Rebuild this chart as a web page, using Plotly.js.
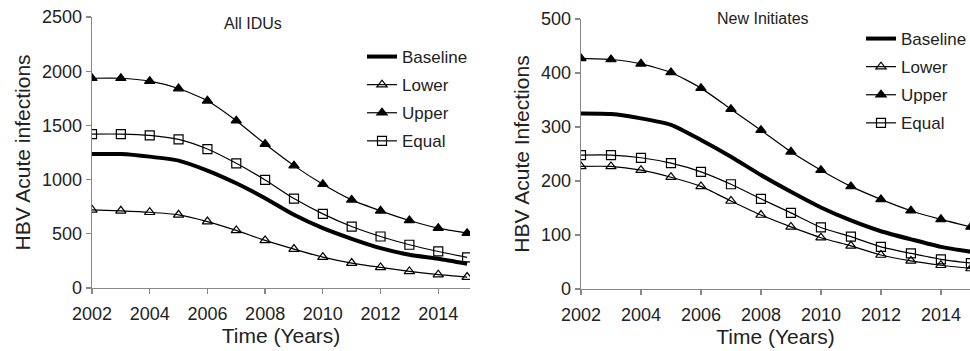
<!DOCTYPE html>
<html>
<head>
<meta charset="utf-8">
<script src="https://cdn.plot.ly/plotly-3.0.1.min.js"></script>
<style>html,body{margin:0;padding:0;background:#fff;}#chart{width:970px;height:351px;}</style>
</head>
<body>
<div id="chart"></div>
<script>
const years = [2002,2003,2004,2005,2006,2007,2008,2009,2010,2011,2012,2013,2014,2015];

// All IDUs
const idu_baseline = [1236,1236,1212,1175,1083,966,828,675,552,454,368,307,270,224];
const idu_lower    = [721,712,699,675,613,531,439,359,285,230,190,153,123,101];
const idu_upper    = [1935,1935,1908,1840,1727,1543,1328,1129,957,813,712,623,552,506];
const idu_equal    = [1420,1420,1408,1371,1282,1150,997,825,684,567,475,399,337,282];

// New Initiates
const ni_baseline = [325,324,316,304,276,245,211,180,151,127,107,92,78,69];
const ni_lower    = [227,227,220,207,190,163,137,115,95,80,63,52,44,38];
const ni_upper    = [427,425,417,401,372,333,294,254,220,190,166,145,129,115];
const ni_equal    = [248,248,243,233,217,194,167,141,114,97,78,66,55,48];

const seriesNames = ['Baseline','Lower','Upper','Equal'];
const xTicks = [2002,2004,2006,2008,2010,2012,2014];

const FONT = 'Liberation Sans, Arial, sans-serif';
const W = 970, H = 351;

function styleFor(name){
  if(name==='Baseline') return {mode:'lines', line:{color:'#000', width:4, shape:'spline', smoothing:0.6}};
  const sym = {Lower:'triangle-up-open', Upper:'triangle-up', Equal:'square-open'}[name];
  return {mode:'lines+markers', line:{color:'#000', width:1.2, shape:'spline', smoothing:0.6},
          marker:{symbol:sym, size:9, color:'#000', line:{color:'#000', width:1.2}}};
}

const traces = [];
const iduSets = [idu_baseline, idu_lower, idu_upper, idu_equal];
const niSets = [ni_baseline, ni_lower, ni_upper, ni_equal];
seriesNames.forEach((n,i)=>{
  traces.push(Object.assign({x:years, y:iduSets[i], name:n, xaxis:'x', yaxis:'y', legend:'legend', legendgroup:'a'+i}, styleFor(n)));
});
seriesNames.forEach((n,i)=>{
  traces.push(Object.assign({x:years, y:niSets[i], name:n, xaxis:'x2', yaxis:'y2', legend:'legend2', legendgroup:'b'+i}, styleFor(n)));
});

const axisCommon = {
  showline:true, linecolor:'#888', linewidth:1.3, ticks:'outside', tickcolor:'#888', ticklen:5, tickwidth:1.3,
  showgrid:false, zeroline:false, tickfont:{family:FONT, size:18, color:'#222'}, fixedrange:true, automargin:false
};
const titleFont = {family:FONT, size:21, color:'#222'};

const layout = {
  width:W, height:H, margin:{l:0,r:0,t:0,b:0, autoexpand:false}, paper_bgcolor:'#fff', plot_bgcolor:'#fff',
  font:{family:FONT, color:'#222'},
  xaxis: Object.assign({}, axisCommon, {domain:[92/W, 470/W], range:[2002, 2015.1], tickvals:xTicks, anchor:'y',
    ticklabelstandoff:4, title:{text:'Time (Years)', font:titleFont, standoff:3}}),
  yaxis: Object.assign({}, axisCommon, {domain:[(H-288)/H, (H-17)/H], range:[0,2500], dtick:500, anchor:'x',
    title:{text:'HBV Acute infections', font:titleFont, standoff:5}}),
  xaxis2: Object.assign({}, axisCommon, {domain:[581/W, 1], range:[2002, 2014.97], tickvals:xTicks, anchor:'y2',
    ticklabelstandoff:4, title:{text:'Time (Years)', font:titleFont, standoff:3}}),
  yaxis2: Object.assign({}, axisCommon, {domain:[(H-289)/H, (H-19)/H], range:[0,500], dtick:100, anchor:'x2',
    title:{text:'HBV Acute Infections', font:titleFont, standoff:5}}),
  legend: {x:362/W, y:1-39/H, xanchor:'left', yanchor:'top', bgcolor:'rgba(0,0,0,0)', tracegroupgap:3,
           font:{family:FONT, size:17, color:'#222'}, itemwidth:30},
  legend2: {x:861/W, y:1-21/H, xanchor:'left', yanchor:'top', bgcolor:'rgba(0,0,0,0)', tracegroupgap:3,
           font:{family:FONT, size:17, color:'#222'}, itemwidth:30},
  annotations:[
    {text:'All IDUs', xref:'paper', yref:'paper', x:253/W, y:1-23/H, showarrow:false, xanchor:'center', yanchor:'middle',
     font:{family:FONT, size:16, color:'#222'}},
    {text:'New Initiates', xref:'paper', yref:'paper', x:763/W, y:1-19/H, showarrow:false, xanchor:'center', yanchor:'middle',
     font:{family:FONT, size:16, color:'#222'}}
  ],
  showlegend:true
};

Plotly.newPlot('chart', traces, layout, {staticPlot:true, displayModeBar:false});
</script>
</body>
</html>
